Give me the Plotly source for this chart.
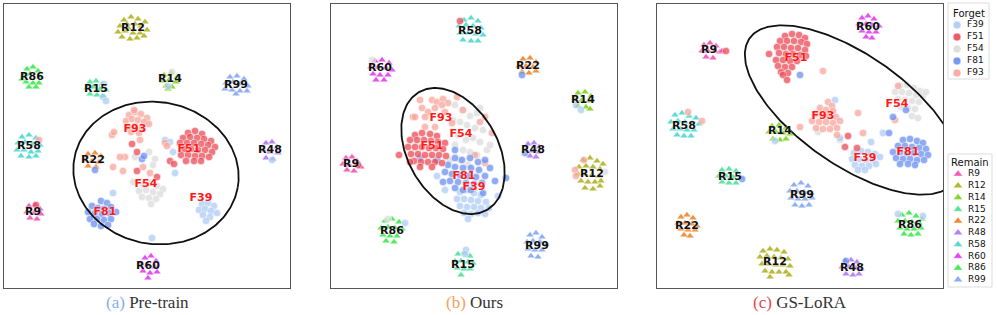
import numpy as np
import plotly.graph_objects as go

W, H = 997, 315

FORGET = ["F39", "F51", "F54", "F81", "F93"]
REMAIN = ["R9", "R12", "R14", "R15", "R22", "R48", "R58", "R60", "R86", "R99"]

COLORS = {
    "F39": "#aecbf5", "F51": "#ec4a55", "F54": "#dcdcdc", "F81": "#6a8ff0", "F93": "#f7a59c",
    "R9": "#f552b5", "R12": "#b3b325", "R14": "#80d41c", "R15": "#4fe39b", "R22": "#f0862d",
    "R48": "#b07cf0", "R58": "#4fd8cf", "R60": "#e040f0", "R86": "#3fe84f", "R99": "#83a9f3",
}

# ---------------- Panel (a) Pre-train ----------------
A_R12 = [(124,20),(131,17),(138,19),(145,22),(120,26),(127,24),(141,26),(147,30),(118,32),(125,31),
         (133,33),(140,33),(122,37),(130,39),(137,38),(144,36),(128,28),(135,24)]
A_R86 = [(27,69),(33,67),(38,71),(24,75),(30,74),(40,77),(26,82),(33,83),(39,83),(29,87),(36,87),(22,79)]
A_R15 = [(90,82),(96,81),(102,84),(87,88),(93,87),(100,89),(106,90),(90,94),(97,95),(103,96)]
A_R14 = [(164,75),(171,73),(177,77),(163,81),(169,80),(176,82),(166,86),(172,87),(168,89)]
A_R99 = [(230,77),(237,76),(244,79),(226,83),(233,82),(240,84),(248,86),(225,89),(232,90),(240,91),(247,91),(236,94)]
A_R58 = [(22,137),(29,135),(36,138),(18,143),(25,142),(33,144),(40,145),(17,150),(24,150),(31,152),
         (38,151),(21,156),(29,157),(36,156)]
A_R48 = [(266,143),(272,142),(277,147),(263,150),(270,152),(278,153),(266,158),(273,159)]
A_R22 = [(88,154),(95,153),(101,156),(85,160),(92,161),(99,162),(88,166),(96,167)]
A_R9 = [(29,206),(35,205),(40,209),(27,212),(34,213),(41,214),(30,218),(37,219)]
A_R60 = [(145,258),(151,256),(156,261),(141,264),(148,265),(155,267),(143,271),(150,273),(157,272),(148,278)]

A_F93 = [(129,115),(135,112),(141,114),(147,118),(126,121),(132,119),(138,120),(144,122),(149,124),
         (128,127),(135,126),(142,128),(131,132),(139,133),(134,110),
         (112,135),(114,132),(140,140),(165,143),(167,146),(125,157),(120,157),(113,167),(123,171),
         (143,167),(150,173),(39,140)]
A_F51 = [(188,133),(195,131),(202,134),(183,138),(190,137),(197,138),(204,139),(211,141),(180,143),
         (187,143),(194,143),(201,144),(208,145),(215,147),(184,149),(191,149),(198,150),(205,150),
         (212,152),(181,155),(188,155),(195,156),(202,156),(209,157),(186,161),(194,161),(201,161),
         (170,161),(174,164),(36,205),(137,152),(132,144),(137,171),(157,177)]
A_F54 = [(143,185),(150,183),(157,186),(163,189),(139,191),(146,190),(153,192),(160,194),(142,197),
         (149,198),(156,199),(151,204),(172,72),(149,152),(155,159),(135,157),(153,165),(133,182)]
A_F39 = [(202,204),(208,203),(214,206),(199,210),(205,209),(211,211),(217,213),(203,215),(210,217),
         (206,221),(168,86),(103,97),(106,101),(104,84),(173,152),(175,173),(113,193),(152,238),
         (272,160),(165,140),(170,142)]
A_F81 = [(101,201),(107,203),(92,206),(98,208),(104,209),(111,207),(88,212),(95,213),(102,214),
         (109,213),(116,212),(90,219),(97,219),(104,220),(111,219),(94,224),(101,226),(108,225),
         (95,170),(142,159),(144,156)]

A_LABEL_XY = {"R12": (133,28), "R86": (32,77), "R15": (96,89), "R14": (170,79), "R99": (236,85),
              "R58": (29,146), "F93": (135,129), "F51": (189,149), "R48": (270,150), "R22": (93,160),
              "F54": (146,184), "R9": (33,212), "F81": (105,212), "F39": (201,198), "R60": (148,266)}
A_ELLIPSE = (156, 173, 83, 71, 10)   # cx, cy, semi-axis a, semi-axis b, rotation (deg)

# ---------------- Panel (b) Ours ----------------
B_R58 = [(464,20),(471,18),(478,21),(459,26),(466,25),(473,26),(481,28),(460,33),(468,33),(476,34),
         (483,35),(463,40),(471,41),(478,41)]
B_R60 = [(375,61),(382,60),(389,63),(371,67),(378,67),(386,68),(392,70),(373,74),(380,75),(388,75),(376,80),(384,80)]
B_R22 = [(523,59),(530,58),(536,62),(519,66),(526,66),(533,67),(522,72),(529,73),(536,71)]
B_R14 = [(578,93),(585,92),(591,96),(575,100),(582,100),(589,101),(578,106),(586,107),(590,109)]
B_R48 = [(528,144),(534,143),(539,147),(526,150),(532,151),(539,152),(530,156),(536,157)]
B_R9 = [(346,158),(352,157),(357,161),(343,164),(349,165),(356,165),(361,167),(347,170),(354,171)]
B_R12 = [(583,160),(590,158),(597,161),(603,164),(579,167),(586,166),(593,167),(600,169),(578,174),
         (585,174),(592,175),(599,176),(581,181),(588,182),(595,182),(601,181),(585,188),(593,189),(600,186)]
B_R86 = [(385,221),(392,219),(399,222),(381,228),(388,227),(395,228),(402,229),(383,235),(390,236),
         (397,236),(386,241),(394,242)]
B_R99 = [(530,235),(536,233),(542,237),(527,242),(533,241),(540,242),(546,244),(528,249),(535,250),
         (542,250),(531,256),(538,257)]
B_R15 = [(458,254),(464,253),(470,256),(455,261),(461,261),(468,262),(473,263),(457,268),(464,269),
         (470,269),(461,275)]

B_F93 = [(420,100),(432,100),(437,102),(443,99),(448,103),(457,97),(422,108),(428,112),(435,108),
         (442,105),(445,112),(413,117),(425,117),(463,110),(452,123),(435,127),(425,127),(415,117),
         (492,133),(485,117),(480,122),(485,163),(475,155),(575,170),(576,176),(584,160)]
B_F51 = [(415,135),(422,133),(430,134),(437,136),(410,140),(417,140),(424,140),(431,141),(438,142),
         (445,143),(408,147),(415,147),(422,147),(429,148),(436,148),(443,149),(411,154),(418,154),
         (425,155),(432,155),(439,155),(446,156),(414,161),(421,162),(428,162),(435,162),(442,163),
         (420,167),(432,167),(460,21),(358,165),(399,155),(410,162)]
B_F54 = [(455,105),(462,110),(470,116),(477,113),(453,120),(460,122),(467,125),(475,128),(483,130),
         (458,135),(466,140),(473,138),(480,142),(455,145),(463,150),(470,152),(477,155),(487,150),
         (450,160),(460,160),(468,165),(372,60),(388,219),(605,172),(480,108),(490,145)]
B_F81 = [(455,158),(462,160),(470,158),(478,162),(485,160),(448,165),(455,167),(463,168),(471,168),
         (479,170),(490,168),(445,172),(452,174),(460,175),(468,176),(476,177),(485,176),(450,181),
         (458,182),(466,183),(474,184),(482,183),(455,188),(463,190),(471,190),(443,182),(495,181),
         (483,193),(522,75),(525,153),(420,158),(437,160),(506,178),(455,150)]
B_F39 = [(460,192),(467,190),(474,193),(481,195),(457,199),(464,199),(471,200),(478,201),(486,202),
         (460,206),(467,207),(474,207),(481,208),(489,208),(464,213),(471,214),(478,213),(485,214),
         (468,219),(576,105),(581,110),(405,223),(466,250),(465,254),(498,196),(437,176),(445,190)]

B_LABEL_XY = {"R58": (470,31), "R60": (380,68), "R22": (528,66), "R14": (583,100), "F93": (441,118),
              "F54": (461,134), "F51": (432,146), "R48": (533,150), "R9": (351,164), "F81": (464,176),
              "F39": (474,187), "R12": (592,174), "R86": (392,231), "R99": (537,246), "R15": (463,265)}
B_ELLIPSE = (453, 151, 68, 45, 60)

# ---------------- Panel (c) GS-LoRA ----------------
C_R9 = [(704,45),(710,43),(716,46),(702,51),(708,51),(715,51),(720,52),(706,57),(713,58),(722,51)]
C_R60 = [(862,18),(868,16),(874,19),(859,24),(866,24),(872,25),(879,26),(862,31),(869,32),(876,32),(866,37),(872,38)]
C_R58 = [(675,115),(682,113),(689,116),(696,118),(671,122),(678,121),(685,122),(692,123),(699,124),
         (673,129),(680,129),(687,130),(694,130),(677,135),(684,136),(691,136)]
C_R14 = [(772,126),(779,125),(786,128),(769,132),(776,132),(783,133),(790,134),(773,139),(780,140),(786,139)]
C_R15 = [(722,170),(729,169),(736,171),(719,176),(726,176),(733,177),(740,177),(722,182),(729,183),(736,183)]
C_R99 = [(794,185),(801,183),(808,186),(790,191),(797,191),(804,192),(811,193),(791,198),(798,199),
         (805,199),(812,198),(795,205),(802,206),(809,205)]
C_R22 = [(681,217),(687,215),(693,218),(678,223),(685,223),(692,224),(697,226),(681,229),(688,230),
         (695,230),(684,235),(690,236)]
C_R86 = [(902,215),(909,213),(916,216),(922,219),(898,221),(905,221),(912,222),(919,223),(900,228),
         (907,229),(914,229),(921,228),(904,234),(911,235),(918,234)]
C_R12 = [(763,251),(770,249),(777,250),(784,252),(760,257),(767,256),(774,257),(781,258),(788,259),
         (762,264),(769,264),(776,265),(783,265),(790,266),(765,271),(772,272),(779,272),(786,272),
         (770,277),(789,275)]
C_R48 = [(845,261),(851,260),(857,262),(842,267),(849,267),(856,268),(861,269),(846,274),(853,275),(859,274)]

C_F51 = [(785,36),(792,34),(799,35),(805,38),(780,41),(787,41),(794,41),(801,42),(807,44),(777,47),
         (784,47),(791,48),(798,48),(805,50),(779,53),(786,54),(793,54),(800,55),(806,56),(776,60),
         (783,60),(790,61),(797,61),(778,66),(785,67),(792,67),(781,72),(788,73),
         (769,54),(783,75),(787,80),(726,51),(845,147),(857,148),(848,136)]
C_F93 = [(828,102),(832,106),(820,108),(826,110),(833,111),(815,114),(822,115),(829,116),(836,117),
         (812,121),(819,122),(826,122),(833,123),(840,121),(816,128),(823,129),(830,129),(837,128),
         (688,112),(702,121),(823,71),(858,113),(863,133),(837,135),(898,86),(895,120),(800,127)]
C_F54 = [(900,86),(907,85),(914,88),(920,91),(895,92),(902,92),(909,93),(916,95),(923,96),(898,99),
         (905,100),(912,101),(919,102),(901,107),(908,108),(915,109),(912,116),(918,118),
         (818,132),(840,140),(926,92)]
C_F81 = [(903,140),(910,139),(917,141),(923,143),(898,146),(905,146),(912,147),(919,148),(926,149),
         (893,152),(900,152),(907,153),(914,153),(921,154),(928,155),(896,158),(903,159),(910,159),
         (917,160),(924,160),(900,164),(908,164),(915,165),
         (800,75),(742,179),(846,261),(889,133),(893,117),(906,110)]
C_F39 = [(854,153),(861,151),(868,152),(875,154),(852,159),(859,159),(866,160),(873,160),(880,157),
         (855,165),(862,166),(869,166),(876,164),(858,170),(865,170),
         (775,141),(871,142),(883,133),(840,138),(898,214),(923,216),(835,100)]

C_LABEL_XY = {"R9": (709,50), "R60": (868,27), "F51": (796,58), "R58": (684,126), "F93": (823,116),
              "F54": (897,104), "R14": (780,131), "F81": (908,152), "F39": (865,158), "R15": (730,177),
              "R99": (802,195), "R22": (687,226), "R86": (910,225), "R12": (775,262), "R48": (852,268)}
C_ELLIPSE = (852, 110, 125, 55, 35)

PANELS = [
    dict(pts={"F39": A_F39, "F51": A_F51, "F54": A_F54, "F81": A_F81, "F93": A_F93,
              "R9": A_R9, "R12": A_R12, "R14": A_R14, "R15": A_R15, "R22": A_R22, "R48": A_R48,
              "R58": A_R58, "R60": A_R60, "R86": A_R86, "R99": A_R99},
         labels=A_LABEL_XY, ell=A_ELLIPSE, left=4, right=290,
         cap_tag="(a)", cap_tag_color="#7fb2ea", cap="Pre-train"),
    dict(pts={"F39": B_F39, "F51": B_F51, "F54": B_F54, "F81": B_F81, "F93": B_F93,
              "R9": B_R9, "R12": B_R12, "R14": B_R14, "R15": B_R15, "R22": B_R22, "R48": B_R48,
              "R58": B_R58, "R60": B_R60, "R86": B_R86, "R99": B_R99},
         labels=B_LABEL_XY, ell=B_ELLIPSE, left=331, right=617,
         cap_tag="(b)", cap_tag_color="#f5a15a", cap="Ours"),
    dict(pts={"F39": C_F39, "F51": C_F51, "F54": C_F54, "F81": C_F81, "F93": C_F93,
              "R9": C_R9, "R12": C_R12, "R14": C_R14, "R15": C_R15, "R22": C_R22, "R48": C_R48,
              "R58": C_R58, "R60": C_R60, "R86": C_R86, "R99": C_R99},
         labels=C_LABEL_XY, ell=C_ELLIPSE, left=657, right=943,
         cap_tag="(c)", cap_tag_color="#e0474f", cap="GS-LoRA"),
]
TOP, BOTTOM = 4, 288

fig = go.Figure()
layout_axes = {}
annotations = []

for i, p in enumerate(PANELS):
    k = "" if i == 0 else str(i + 1)
    xa, ya = "x" + k, "y" + k
    layout_axes["xaxis" + k] = dict(domain=[p["left"] / W, p["right"] / W], range=[p["left"], p["right"]],
                                    anchor=ya, showgrid=False, zeroline=False, showticklabels=False, ticks="",
                                    showline=True, mirror=True, linecolor="#555555", linewidth=1,
                                    fixedrange=True)
    layout_axes["yaxis" + k] = dict(domain=[1 - BOTTOM / H, 1 - TOP / H], range=[BOTTOM, TOP],
                                    anchor=xa, showgrid=False, zeroline=False, showticklabels=False, ticks="",
                                    showline=True, mirror=True, linecolor="#555555", linewidth=1,
                                    fixedrange=True)
    # remain classes (triangles)
    for c in REMAIN:
        xs, ys = zip(*p["pts"][c])
        fig.add_trace(go.Scatter(x=xs, y=ys, mode="markers", xaxis=xa, yaxis=ya, showlegend=False,
                                 marker=dict(symbol="triangle-up", size=7, color=COLORS[c], opacity=0.9,
                                             line=dict(color="white", width=0.4)), hoverinfo="skip"))
    # forget classes (circles)
    for c in ["F54", "F39", "F93", "F81", "F51"]:
        xs, ys = zip(*p["pts"][c])
        fig.add_trace(go.Scatter(x=xs, y=ys, mode="markers", xaxis=xa, yaxis=ya, showlegend=False,
                                 marker=dict(symbol="circle", size=7.5, color=COLORS[c], opacity=0.75,
                                             line=dict(color="white", width=0.6)), hoverinfo="skip"))
    # ellipse outline
    cx, cy, a, b, ang = p["ell"]
    t = np.linspace(0, 2 * np.pi, 241)
    th = np.deg2rad(ang)
    ex = cx + a * np.cos(t) * np.cos(th) - b * np.sin(t) * np.sin(th)
    ey = cy + a * np.cos(t) * np.sin(th) + b * np.sin(t) * np.cos(th)
    fig.add_trace(go.Scatter(x=ex, y=ey, mode="lines", xaxis=xa, yaxis=ya, showlegend=False,
                             line=dict(color="#111111", width=1.8), hoverinfo="skip"))
    # cluster labels
    names = list(p["labels"].keys())
    lx = [p["labels"][n][0] for n in names]
    ly = [p["labels"][n][1] for n in names]
    fig.add_trace(go.Scatter(x=lx, y=ly, mode="text", xaxis=xa, yaxis=ya, showlegend=False,
                             text=["<b>%s</b>" % n for n in names], textposition="middle center",
                             textfont=dict(family="DejaVu Sans", size=11,
                                           color=["#ff1a1a" if n.startswith("F") else "#111111" for n in names],
                                           shadow="0px 0px 2px white"),
                             hoverinfo="skip"))
    annotations.append(dict(xref="paper", yref="paper", x=(p["left"] + p["right"]) / 2 / W, y=1 - 302 / H,
                            xanchor="center", yanchor="middle", showarrow=False,
                            text="<span style='color:%s'>%s</span> %s" % (p["cap_tag_color"], p["cap_tag"], p["cap"]),
                            font=dict(family="Liberation Serif", size=17, color="#333333")))

# ---------------- manual legend (two boxes) ----------------
layout_axes["xaxis4"] = dict(domain=[944 / W, 1], range=[944, 997], visible=False, fixedrange=True, anchor="y4")
layout_axes["yaxis4"] = dict(domain=[0, 1], range=[315, 0], visible=False, fixedrange=True, anchor="x4")
shapes = [
    dict(type="rect", xref="x4", yref="y4", x0=948, x1=989, y0=3, y1=79, fillcolor="white",
         line=dict(color="#dddddd", width=1), layer="below"),
    dict(type="rect", xref="x4", yref="y4", x0=948, x1=992, y0=154, y1=287, fillcolor="white",
         line=dict(color="#dddddd", width=1), layer="below"),
]
fy = [25 + 12 * i for i in range(len(FORGET))]
ry = [174 + 11.75 * i for i in range(len(REMAIN))]
fig.add_trace(go.Scatter(x=[957] * len(FORGET), y=fy, mode="markers", xaxis="x4", yaxis="y4", showlegend=False,
                         marker=dict(symbol="circle", size=8, color=[COLORS[c] for c in FORGET], opacity=0.9,
                                     line=dict(color="white", width=0.6)), hoverinfo="skip"))
fig.add_trace(go.Scatter(x=[967] * len(FORGET), y=fy, mode="text", xaxis="x4", yaxis="y4", showlegend=False,
                         text=FORGET, textposition="middle right",
                         textfont=dict(family="DejaVu Sans", size=9, color="#111111"), hoverinfo="skip"))
fig.add_trace(go.Scatter(x=[958] * len(REMAIN), y=ry, mode="markers", xaxis="x4", yaxis="y4", showlegend=False,
                         marker=dict(symbol="triangle-up", size=8, color=[COLORS[c] for c in REMAIN], opacity=0.95,
                                     line=dict(color="white", width=0.4)), hoverinfo="skip"))
fig.add_trace(go.Scatter(x=[968] * len(REMAIN), y=ry, mode="text", xaxis="x4", yaxis="y4", showlegend=False,
                         text=REMAIN, textposition="middle right",
                         textfont=dict(family="DejaVu Sans", size=9, color="#111111"), hoverinfo="skip"))
annotations += [
    dict(xref="x4", yref="y4", x=968.5, y=13, text="Forget", showarrow=False, xanchor="center", yanchor="middle",
         font=dict(family="DejaVu Sans", size=10, color="#111111")),
    dict(xref="x4", yref="y4", x=970, y=162, text="Remain", showarrow=False, xanchor="center", yanchor="middle",
         font=dict(family="DejaVu Sans", size=10, color="#111111")),
]

fig.update_layout(width=W, height=H, margin=dict(l=0, r=0, t=0, b=0), paper_bgcolor="white",
                  plot_bgcolor="white", showlegend=False, annotations=annotations, shapes=shapes,
                  **layout_axes)
fig.write_html("out.html", include_plotlyjs=True, config={"displayModeBar": False},
               post_script="document.body.style.margin='0px';document.body.style.overflow='hidden';")
